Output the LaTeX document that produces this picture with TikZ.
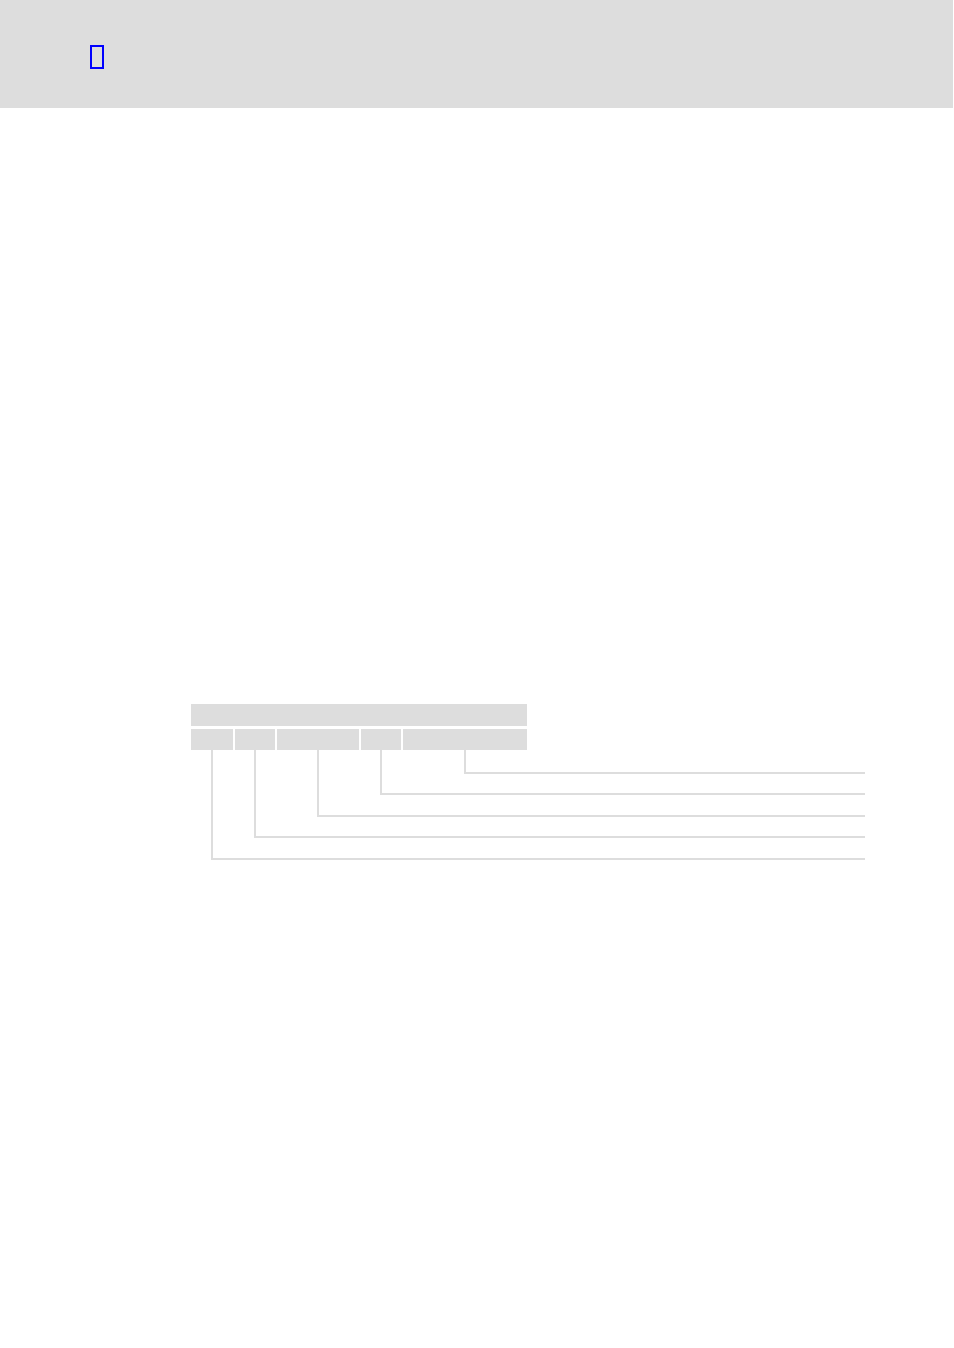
\documentclass[tikz,border=0pt]{standalone}
\usepackage{tikz}
\usetikzlibrary{positioning, calc}
\definecolor{bandgray}{HTML}{DDDDDD}
\definecolor{markblue}{HTML}{0000FF}

\begin{document}
\begin{tikzpicture}[x=1pt, y=-1pt,
    cell/.style = {fill=bandgray, inner sep=0pt, outer sep=0pt, minimum height=21pt, anchor=north west},
    leader/.style = {draw=bandgray, line width=1.6pt}]
    % Pagina
    \useasboundingbox (0,0) rectangle (953,1348);
    \fill[white] (0,0) rectangle (953,1348);
    % Intestazione
    \fill[bandgray] (0,0) rectangle (953,108.5);
    \draw[markblue, line width=2pt] (91,46) rectangle (103,68);
    % Barra superiore
    \node[cell, minimum width=336pt, minimum height=22pt] (bar) at (191,704) {};
    % Campi
    \node[cell, minimum width=42pt] (c1) at (191,729) {};
    \node[cell, minimum width=40pt, right=2pt of c1] (c2) {};
    \node[cell, minimum width=82pt, right=2pt of c2] (c3) {};
    \node[cell, minimum width=40pt, right=2pt of c3] (c4) {};
    \node[cell, minimum width=124pt, right=2pt of c4] (c5) {};
    % Estremi delle linee
    \coordinate (e5) at (865,773);
    \coordinate (e4) at (865,794);
    \coordinate (e3) at (865,816);
    \coordinate (e2) at (865,837);
    \coordinate (e1) at (865,859);
    % Linee di richiamo
    \draw[leader] (c5.south) |- (e5);
    \draw[leader] (c4.south) |- (e4);
    \draw[leader] (c3.south) |- (e3);
    \draw[leader] (c2.south) |- (e2);
    \draw[leader] (c1.south) |- (e1);
\end{tikzpicture}
\end{document}
